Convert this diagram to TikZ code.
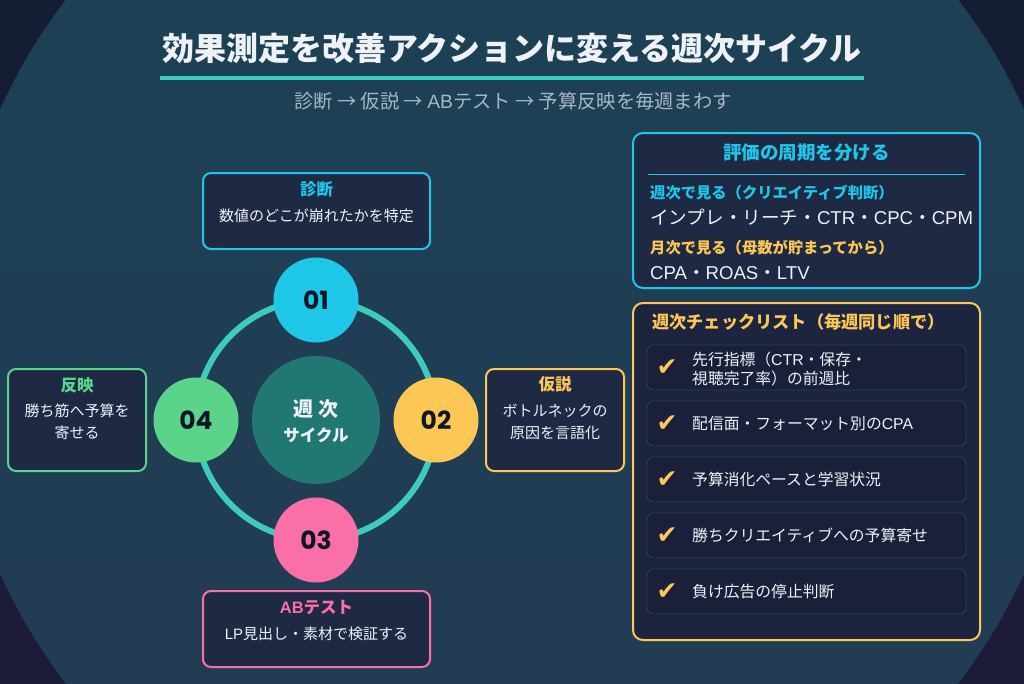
\documentclass[tikz,border=0pt]{standalone}
\usepackage{fontspec}
\setmainfont{Noto Sans CJK JP}
\newfontfamily\popf{Poppins}
\newfontfamily\djv{DejaVu Sans}
\newfontfamily\lat{Liberation Sans}
\definecolor{bgA}{HTML}{131D33}
\definecolor{bgB}{HTML}{1D1B3A}
\definecolor{ciA}{HTML}{1B4254}
\definecolor{ciB}{HTML}{233A53}
\definecolor{boxfill}{HTML}{1E2944}
\definecolor{panelfill}{HTML}{1C2440}
\definecolor{itemfill}{HTML}{1A2039}
\definecolor{itemline}{HTML}{2F3C5A}
\definecolor{cyanc}{HTML}{1EC6E8}
\definecolor{tealc}{HTML}{3CCBBE}
\definecolor{yelc}{HTML}{FDC756}
\definecolor{pinkc}{HTML}{FB6FA8}
\definecolor{greenc}{HTML}{5CD38A}
\definecolor{centc}{HTML}{217872}
\definecolor{subc}{HTML}{A9B6C8}
\definecolor{whitec}{HTML}{EEF2F7}
\definecolor{numc}{HTML}{0F1626}
\begin{document}
\begin{tikzpicture}[x=1pt,y=-1pt,
  smallbox/.style={rectangle, rounded corners=8pt, fill=boxfill, line width=2pt, inner sep=0pt},
  panel/.style={rectangle, rounded corners=10pt, line width=2pt, inner sep=0pt},
  numcirc/.style={circle, minimum size=85pt, inner sep=0pt, text=numc, font=\popf\bfseries\fontsize{25}{28}\selectfont},
  boxtitle/.style={inner sep=0pt, font=\bfseries\fontsize{16.5}{19}\selectfont},
  boxbody/.style={inner sep=0pt, text=whitec, align=center, font=\fontsize{15}{22}\selectfont},
  itembox/.style={rectangle, rounded corners=7pt, fill=itemfill, draw=itemline, line width=0.8pt, minimum width=319pt, minimum height=45pt, inner sep=0pt},
  chk/.style={inner sep=0pt, text=yelc, font=\djv\bfseries\fontsize{25}{26}\selectfont},
  itxt/.style={inner sep=0pt, anchor=west, text=whitec, align=left, font=\fontsize{15.8}{19}\selectfont},
]
\useasboundingbox (0,0) rectangle (1024,683);
\clip (0,0) rectangle (1024,683);
% background
\shade[top color=bgA, bottom color=bgB] (0,0) rectangle (1024,683);
\shade[top color=ciA, bottom color=ciB] (512,341.5) circle (562pt);

% title
\node[inner sep=0pt, text=whitec, font=\bfseries\fontsize{32}{36}\selectfont] (title) at (512,48) {効果測定を改善アクションに変える週次サイクル};
\coordinate (ulA) at (160,78);
\coordinate (ulB) at (864,78);
\draw[tealc, line width=4pt] (ulA) -- (ulB);
\node[inner sep=0pt, text=subc, font=\fontsize{19.3}{21}\selectfont] (sub) at (513,101) {診断 → 仮説 → {\lat AB}テスト → 予算反映を毎週まわす};

% cycle ring
\coordinate (cc) at (316,420);
\draw[tealc, line width=6pt] (cc) circle (120pt);
\node[circle, fill=centc, minimum size=128pt, inner sep=0pt] (center) at (cc) {};
\node[inner sep=0pt, text=whitec, font=\bfseries\fontsize{20}{22}\selectfont] (ct1) at (316,409) {週 次};
\node[inner sep=0pt, text=whitec, font=\bfseries\fontsize{16.5}{20}\selectfont] (ct2) at (316,435) {サイクル};

\node[numcirc, fill=cyanc] (n1) at (316,300) {01};
\node[numcirc, fill=yelc] (n2) at (436,420) {02};
\node[numcirc, fill=pinkc] (n3) at (316,540) {03};
\node[numcirc, fill=greenc] (n4) at (196,420) {04};

% step boxes
\node[smallbox, draw=cyanc, minimum width=227pt, minimum height=76pt] (b1) at (316.5,211) {};
\node[boxtitle, text=cyanc] (b1t) at (316.5,189) {診断};
\node[boxbody] (b1b) at (316.5,216) {数値のどこが崩れたかを特定};

\node[smallbox, draw=yelc, minimum width=138pt, minimum height=102pt] (b2) at (555,420) {};
\node[boxtitle, text=yelc] (b2t) at (555,384) {仮説};
\node[boxbody] (b2b) at (555,422) {ボトルネックの\\原因を言語化};

\node[smallbox, draw=pinkc, minimum width=227pt, minimum height=76pt] (b3) at (316.5,629) {};
\node[boxtitle, text=pinkc] (b3t) at (316.5,607) {{\lat\bfseries AB}テスト};
\node[boxbody] (b3b) at (316.5,634) {{\lat LP}見出し・素材で検証する};

\node[smallbox, draw=greenc, minimum width=138pt, minimum height=102pt] (b4) at (77,420) {};
\node[boxtitle, text=greenc] (b4t) at (77,385) {反映};
\node[boxbody] (b4b) at (77,422) {勝ち筋へ予算を\\寄せる};

% panel 1
\node[panel, draw=cyanc, fill=boxfill, minimum width=347pt, minimum height=155pt] (p1) at (806.5,210.5) {};
\node[inner sep=0pt, text=cyanc, font=\bfseries\fontsize{18.5}{22}\selectfont] (p1t) at (806.5,153) {評価の周期を分ける};
\coordinate (dvA) at (648,174);
\coordinate (dvB) at (965,174);
\draw[cyanc, line width=1pt] (dvA) -- (dvB);
\node[inner sep=0pt, anchor=west, text=cyanc, font=\bfseries\fontsize{15.3}{18}\selectfont] (w1) at (650,193) {週次で見る（クリエイティブ判断）};
\node[inner sep=0pt, anchor=west, text=whitec, font=\fontsize{18.6}{22}\selectfont] (w2) at (650,217.5) {インプレ・リーチ・{\lat CTR}・{\lat CPC}・{\lat CPM}};
\node[inner sep=0pt, anchor=west, text=yelc, font=\bfseries\fontsize{15.3}{18}\selectfont] (m1) at (650,248) {月次で見る（母数が貯まってから）};
\node[inner sep=0pt, anchor=west, text=whitec, font=\fontsize{18.6}{22}\selectfont] (m2) at (650,273) {{\lat CPA}・{\lat ROAS}・{\lat LTV}};

% panel 2
\node[panel, draw=yelc, fill=panelfill, minimum width=347pt, minimum height=337pt] (p2) at (806.5,471.5) {};
\node[inner sep=0pt, anchor=west, text=yelc, font=\bfseries\fontsize{17.2}{20}\selectfont] (p2t) at (652,322) {週次チェックリスト（毎週同じ順で）};

\node[itembox] (i1) at (806.5,367.5) {};
\node[chk] (k1) at (667,368) {✔};
\node[itxt] (t1) at (692,368.5) {先行指標（{\lat CTR}・保存・\\視聴完了率）の前週比};

\node[itembox] (i2) at (806.5,423.5) {};
\node[chk] (k2) at (667,424) {✔};
\node[itxt] (t2) at (692,423.5) {配信面・フォーマット別の{\lat CPA}};

\node[itembox] (i3) at (806.5,479.5) {};
\node[chk] (k3) at (667,480) {✔};
\node[itxt] (t3) at (692,479.5) {予算消化ペースと学習状況};

\node[itembox] (i4) at (806.5,535.5) {};
\node[chk] (k4) at (667,536) {✔};
\node[itxt] (t4) at (692,535.5) {勝ちクリエイティブへの予算寄せ};

\node[itembox] (i5) at (806.5,591.5) {};
\node[chk] (k5) at (667,592) {✔};
\node[itxt] (t5) at (692,591.5) {負け広告の停止判断};
\end{tikzpicture}
\end{document}
